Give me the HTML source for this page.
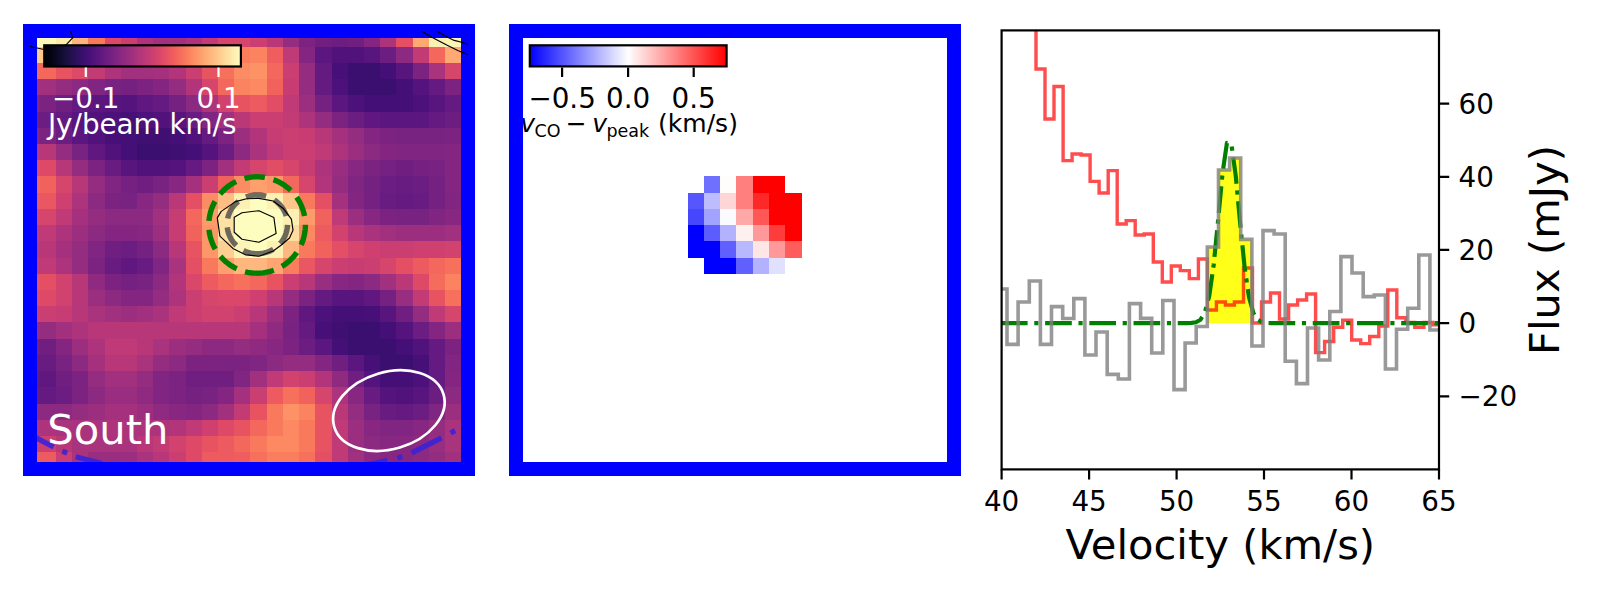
<!DOCTYPE html>
<html><head><meta charset="utf-8"><title>South spectrum</title>
<style>html,body{margin:0;padding:0;background:#fff;}svg{display:block;}text{font-family:'DejaVu Sans','Liberation Sans',sans-serif;}</style>
</head><body>
<svg width="1600" height="600" viewBox="0 0 1600 600">
<rect width="1600" height="600" fill="#fff"/>
<defs>
<clipPath id="c1"><rect x="30" y="31" width="438" height="438"/></clipPath>
<clipPath id="c1i"><rect x="37" y="38" width="424" height="424"/></clipPath>
<clipPath id="c3"><rect x="1001.6" y="30.4" width="437.4" height="439"/></clipPath>
<linearGradient id="gm" x1="0" x2="1" y1="0" y2="0"><stop offset="0.000" stop-color="#000004"/><stop offset="0.031" stop-color="#030312"/><stop offset="0.062" stop-color="#0a0822"/><stop offset="0.094" stop-color="#130d34"/><stop offset="0.125" stop-color="#1d1147"/><stop offset="0.156" stop-color="#29115a"/><stop offset="0.188" stop-color="#36106b"/><stop offset="0.219" stop-color="#440f76"/><stop offset="0.250" stop-color="#51127c"/><stop offset="0.281" stop-color="#5d177f"/><stop offset="0.312" stop-color="#6a1c81"/><stop offset="0.344" stop-color="#762181"/><stop offset="0.375" stop-color="#832681"/><stop offset="0.406" stop-color="#902a81"/><stop offset="0.438" stop-color="#9c2e7f"/><stop offset="0.469" stop-color="#aa337d"/><stop offset="0.500" stop-color="#b73779"/><stop offset="0.531" stop-color="#c43c75"/><stop offset="0.562" stop-color="#d0416f"/><stop offset="0.594" stop-color="#dc4869"/><stop offset="0.625" stop-color="#e75263"/><stop offset="0.656" stop-color="#ef5d5e"/><stop offset="0.688" stop-color="#f56b5c"/><stop offset="0.719" stop-color="#f9795d"/><stop offset="0.750" stop-color="#fc8961"/><stop offset="0.781" stop-color="#fd9869"/><stop offset="0.812" stop-color="#fea772"/><stop offset="0.844" stop-color="#feb67c"/><stop offset="0.875" stop-color="#fec488"/><stop offset="0.906" stop-color="#fed395"/><stop offset="0.938" stop-color="#fde2a3"/><stop offset="0.969" stop-color="#fcf0b2"/><stop offset="1.000" stop-color="#fcfdbf"/></linearGradient>
<linearGradient id="gb" x1="0" x2="1" y1="0" y2="0"><stop offset="0.000" stop-color="#0000ff"/><stop offset="0.062" stop-color="#2020ff"/><stop offset="0.125" stop-color="#4040ff"/><stop offset="0.188" stop-color="#6060ff"/><stop offset="0.250" stop-color="#8080ff"/><stop offset="0.312" stop-color="#a0a0ff"/><stop offset="0.375" stop-color="#c0c0ff"/><stop offset="0.438" stop-color="#e0e0ff"/><stop offset="0.500" stop-color="#fffefe"/><stop offset="0.562" stop-color="#ffdede"/><stop offset="0.625" stop-color="#ffbebe"/><stop offset="0.688" stop-color="#ff9e9e"/><stop offset="0.750" stop-color="#ff7e7e"/><stop offset="0.812" stop-color="#ff5e5e"/><stop offset="0.875" stop-color="#ff3e3e"/><stop offset="0.938" stop-color="#ff1e1e"/><stop offset="1.000" stop-color="#ff0000"/></linearGradient>
</defs>
<g clip-path="url(#c1)" shape-rendering="crispEdges">
<rect x="23.40" y="30.50" width="16.62" height="16.62" fill="#fcfdbf"/>
<rect x="39.62" y="30.50" width="16.62" height="16.62" fill="#fcf9bb"/>
<rect x="55.84" y="30.50" width="16.62" height="16.62" fill="#fdebac"/>
<rect x="72.06" y="30.50" width="16.62" height="16.62" fill="#feb47b"/>
<rect x="88.28" y="30.50" width="16.62" height="16.62" fill="#f9795d"/>
<rect x="104.50" y="30.50" width="16.62" height="16.62" fill="#de4968"/>
<rect x="120.72" y="30.50" width="16.62" height="16.62" fill="#ca3e72"/>
<rect x="136.94" y="30.50" width="16.62" height="16.62" fill="#ad347c"/>
<rect x="153.16" y="30.50" width="16.62" height="16.62" fill="#a1307e"/>
<rect x="169.38" y="30.50" width="16.62" height="16.62" fill="#a1307e"/>
<rect x="185.60" y="30.50" width="16.62" height="16.62" fill="#ad347c"/>
<rect x="201.82" y="30.50" width="16.62" height="16.62" fill="#c23b75"/>
<rect x="218.04" y="30.50" width="16.62" height="16.62" fill="#d6456c"/>
<rect x="234.26" y="30.50" width="16.62" height="16.62" fill="#d6456c"/>
<rect x="250.48" y="30.50" width="16.62" height="16.62" fill="#ca3e72"/>
<rect x="266.70" y="30.50" width="16.62" height="16.62" fill="#b73779"/>
<rect x="282.92" y="30.50" width="16.62" height="16.62" fill="#942c80"/>
<rect x="299.14" y="30.50" width="16.62" height="16.62" fill="#7c2382"/>
<rect x="315.36" y="30.50" width="16.62" height="16.62" fill="#701f81"/>
<rect x="331.58" y="30.50" width="16.62" height="16.62" fill="#6b1d81"/>
<rect x="347.80" y="30.50" width="16.62" height="16.62" fill="#701f81"/>
<rect x="364.02" y="30.50" width="16.62" height="16.62" fill="#842681"/>
<rect x="380.24" y="30.50" width="16.62" height="16.62" fill="#ad347c"/>
<rect x="396.46" y="30.50" width="16.62" height="16.62" fill="#e44f64"/>
<rect x="412.68" y="30.50" width="16.62" height="16.62" fill="#fea973"/>
<rect x="428.90" y="30.50" width="16.62" height="16.62" fill="#fcf0b2"/>
<rect x="445.12" y="30.50" width="16.62" height="16.62" fill="#fcf4b6"/>
<rect x="461.34" y="30.50" width="16.62" height="16.62" fill="#fcf4b6"/>
<rect x="23.40" y="46.72" width="16.62" height="16.62" fill="#fecd90"/>
<rect x="39.62" y="46.72" width="16.62" height="16.62" fill="#fec68a"/>
<rect x="55.84" y="46.72" width="16.62" height="16.62" fill="#fea973"/>
<rect x="72.06" y="46.72" width="16.62" height="16.62" fill="#f9795d"/>
<rect x="88.28" y="46.72" width="16.62" height="16.62" fill="#e44f64"/>
<rect x="104.50" y="46.72" width="16.62" height="16.62" fill="#c73d73"/>
<rect x="120.72" y="46.72" width="16.62" height="16.62" fill="#ad347c"/>
<rect x="136.94" y="46.72" width="16.62" height="16.62" fill="#a5317e"/>
<rect x="153.16" y="46.72" width="16.62" height="16.62" fill="#a5317e"/>
<rect x="169.38" y="46.72" width="16.62" height="16.62" fill="#ad347c"/>
<rect x="185.60" y="46.72" width="16.62" height="16.62" fill="#c23b75"/>
<rect x="201.82" y="46.72" width="16.62" height="16.62" fill="#de4968"/>
<rect x="218.04" y="46.72" width="16.62" height="16.62" fill="#f2625d"/>
<rect x="234.26" y="46.72" width="16.62" height="16.62" fill="#fa7d5e"/>
<rect x="250.48" y="46.72" width="16.62" height="16.62" fill="#fb835f"/>
<rect x="266.70" y="46.72" width="16.62" height="16.62" fill="#ef5d5e"/>
<rect x="282.92" y="46.72" width="16.62" height="16.62" fill="#bf3a77"/>
<rect x="299.14" y="46.72" width="16.62" height="16.62" fill="#842681"/>
<rect x="315.36" y="46.72" width="16.62" height="16.62" fill="#5c167f"/>
<rect x="331.58" y="46.72" width="16.62" height="16.62" fill="#51127c"/>
<rect x="347.80" y="46.72" width="16.62" height="16.62" fill="#51127c"/>
<rect x="364.02" y="46.72" width="16.62" height="16.62" fill="#59157e"/>
<rect x="380.24" y="46.72" width="16.62" height="16.62" fill="#6b1d81"/>
<rect x="396.46" y="46.72" width="16.62" height="16.62" fill="#8c2981"/>
<rect x="412.68" y="46.72" width="16.62" height="16.62" fill="#c23b75"/>
<rect x="428.90" y="46.72" width="16.62" height="16.62" fill="#f4675c"/>
<rect x="445.12" y="46.72" width="16.62" height="16.62" fill="#fea973"/>
<rect x="461.34" y="46.72" width="16.62" height="16.62" fill="#fea973"/>
<rect x="23.40" y="62.94" width="16.62" height="16.62" fill="#f66c5c"/>
<rect x="39.62" y="62.94" width="16.62" height="16.62" fill="#f4675c"/>
<rect x="55.84" y="62.94" width="16.62" height="16.62" fill="#e85362"/>
<rect x="72.06" y="62.94" width="16.62" height="16.62" fill="#de4968"/>
<rect x="88.28" y="62.94" width="16.62" height="16.62" fill="#c23b75"/>
<rect x="104.50" y="62.94" width="16.62" height="16.62" fill="#ad347c"/>
<rect x="120.72" y="62.94" width="16.62" height="16.62" fill="#a1307e"/>
<rect x="136.94" y="62.94" width="16.62" height="16.62" fill="#a1307e"/>
<rect x="153.16" y="62.94" width="16.62" height="16.62" fill="#a5317e"/>
<rect x="169.38" y="62.94" width="16.62" height="16.62" fill="#b2357b"/>
<rect x="185.60" y="62.94" width="16.62" height="16.62" fill="#ca3e72"/>
<rect x="201.82" y="62.94" width="16.62" height="16.62" fill="#e85362"/>
<rect x="218.04" y="62.94" width="16.62" height="16.62" fill="#f7705c"/>
<rect x="234.26" y="62.94" width="16.62" height="16.62" fill="#fc8c63"/>
<rect x="250.48" y="62.94" width="16.62" height="16.62" fill="#fd9266"/>
<rect x="266.70" y="62.94" width="16.62" height="16.62" fill="#f4675c"/>
<rect x="282.92" y="62.94" width="16.62" height="16.62" fill="#ca3e72"/>
<rect x="299.14" y="62.94" width="16.62" height="16.62" fill="#942c80"/>
<rect x="315.36" y="62.94" width="16.62" height="16.62" fill="#641a80"/>
<rect x="331.58" y="62.94" width="16.62" height="16.62" fill="#471078"/>
<rect x="347.80" y="62.94" width="16.62" height="16.62" fill="#3b0f70"/>
<rect x="364.02" y="62.94" width="16.62" height="16.62" fill="#3b0f70"/>
<rect x="380.24" y="62.94" width="16.62" height="16.62" fill="#440f76"/>
<rect x="396.46" y="62.94" width="16.62" height="16.62" fill="#59157e"/>
<rect x="412.68" y="62.94" width="16.62" height="16.62" fill="#7c2382"/>
<rect x="428.90" y="62.94" width="16.62" height="16.62" fill="#aa337d"/>
<rect x="445.12" y="62.94" width="16.62" height="16.62" fill="#d6456c"/>
<rect x="461.34" y="62.94" width="16.62" height="16.62" fill="#d6456c"/>
<rect x="23.40" y="79.16" width="16.62" height="16.62" fill="#a5317e"/>
<rect x="39.62" y="79.16" width="16.62" height="16.62" fill="#a1307e"/>
<rect x="55.84" y="79.16" width="16.62" height="16.62" fill="#942c80"/>
<rect x="72.06" y="79.16" width="16.62" height="16.62" fill="#8c2981"/>
<rect x="88.28" y="79.16" width="16.62" height="16.62" fill="#802582"/>
<rect x="104.50" y="79.16" width="16.62" height="16.62" fill="#782281"/>
<rect x="120.72" y="79.16" width="16.62" height="16.62" fill="#752181"/>
<rect x="136.94" y="79.16" width="16.62" height="16.62" fill="#7c2382"/>
<rect x="153.16" y="79.16" width="16.62" height="16.62" fill="#842681"/>
<rect x="169.38" y="79.16" width="16.62" height="16.62" fill="#942c80"/>
<rect x="185.60" y="79.16" width="16.62" height="16.62" fill="#b2357b"/>
<rect x="201.82" y="79.16" width="16.62" height="16.62" fill="#d6456c"/>
<rect x="218.04" y="79.16" width="16.62" height="16.62" fill="#f4675c"/>
<rect x="234.26" y="79.16" width="16.62" height="16.62" fill="#fb835f"/>
<rect x="250.48" y="79.16" width="16.62" height="16.62" fill="#fc8961"/>
<rect x="266.70" y="79.16" width="16.62" height="16.62" fill="#f2625d"/>
<rect x="282.92" y="79.16" width="16.62" height="16.62" fill="#c73d73"/>
<rect x="299.14" y="79.16" width="16.62" height="16.62" fill="#942c80"/>
<rect x="315.36" y="79.16" width="16.62" height="16.62" fill="#641a80"/>
<rect x="331.58" y="79.16" width="16.62" height="16.62" fill="#4c117a"/>
<rect x="347.80" y="79.16" width="16.62" height="16.62" fill="#3b0f70"/>
<rect x="364.02" y="79.16" width="16.62" height="16.62" fill="#3b0f70"/>
<rect x="380.24" y="79.16" width="16.62" height="16.62" fill="#3b0f70"/>
<rect x="396.46" y="79.16" width="16.62" height="16.62" fill="#440f76"/>
<rect x="412.68" y="79.16" width="16.62" height="16.62" fill="#54137d"/>
<rect x="428.90" y="79.16" width="16.62" height="16.62" fill="#641a80"/>
<rect x="445.12" y="79.16" width="16.62" height="16.62" fill="#7c2382"/>
<rect x="461.34" y="79.16" width="16.62" height="16.62" fill="#7c2382"/>
<rect x="23.40" y="95.38" width="16.62" height="16.62" fill="#802582"/>
<rect x="39.62" y="95.38" width="16.62" height="16.62" fill="#7c2382"/>
<rect x="55.84" y="95.38" width="16.62" height="16.62" fill="#701f81"/>
<rect x="72.06" y="95.38" width="16.62" height="16.62" fill="#641a80"/>
<rect x="88.28" y="95.38" width="16.62" height="16.62" fill="#5c167f"/>
<rect x="104.50" y="95.38" width="16.62" height="16.62" fill="#59157e"/>
<rect x="120.72" y="95.38" width="16.62" height="16.62" fill="#54137d"/>
<rect x="136.94" y="95.38" width="16.62" height="16.62" fill="#601880"/>
<rect x="153.16" y="95.38" width="16.62" height="16.62" fill="#641a80"/>
<rect x="169.38" y="95.38" width="16.62" height="16.62" fill="#752181"/>
<rect x="185.60" y="95.38" width="16.62" height="16.62" fill="#8c2981"/>
<rect x="201.82" y="95.38" width="16.62" height="16.62" fill="#ad347c"/>
<rect x="218.04" y="95.38" width="16.62" height="16.62" fill="#d2426f"/>
<rect x="234.26" y="95.38" width="16.62" height="16.62" fill="#e85362"/>
<rect x="250.48" y="95.38" width="16.62" height="16.62" fill="#ed5a5f"/>
<rect x="266.70" y="95.38" width="16.62" height="16.62" fill="#e24d66"/>
<rect x="282.92" y="95.38" width="16.62" height="16.62" fill="#bf3a77"/>
<rect x="299.14" y="95.38" width="16.62" height="16.62" fill="#9c2e7f"/>
<rect x="315.36" y="95.38" width="16.62" height="16.62" fill="#752181"/>
<rect x="331.58" y="95.38" width="16.62" height="16.62" fill="#5c167f"/>
<rect x="347.80" y="95.38" width="16.62" height="16.62" fill="#4c117a"/>
<rect x="364.02" y="95.38" width="16.62" height="16.62" fill="#440f76"/>
<rect x="380.24" y="95.38" width="16.62" height="16.62" fill="#440f76"/>
<rect x="396.46" y="95.38" width="16.62" height="16.62" fill="#440f76"/>
<rect x="412.68" y="95.38" width="16.62" height="16.62" fill="#4c117a"/>
<rect x="428.90" y="95.38" width="16.62" height="16.62" fill="#59157e"/>
<rect x="445.12" y="95.38" width="16.62" height="16.62" fill="#641a80"/>
<rect x="461.34" y="95.38" width="16.62" height="16.62" fill="#641a80"/>
<rect x="23.40" y="111.60" width="16.62" height="16.62" fill="#6e1e81"/>
<rect x="39.62" y="111.60" width="16.62" height="16.62" fill="#6b1d81"/>
<rect x="55.84" y="111.60" width="16.62" height="16.62" fill="#641a80"/>
<rect x="72.06" y="111.60" width="16.62" height="16.62" fill="#59157e"/>
<rect x="88.28" y="111.60" width="16.62" height="16.62" fill="#51127c"/>
<rect x="104.50" y="111.60" width="16.62" height="16.62" fill="#4c117a"/>
<rect x="120.72" y="111.60" width="16.62" height="16.62" fill="#471078"/>
<rect x="136.94" y="111.60" width="16.62" height="16.62" fill="#4c117a"/>
<rect x="153.16" y="111.60" width="16.62" height="16.62" fill="#51127c"/>
<rect x="169.38" y="111.60" width="16.62" height="16.62" fill="#59157e"/>
<rect x="185.60" y="111.60" width="16.62" height="16.62" fill="#681c81"/>
<rect x="201.82" y="111.60" width="16.62" height="16.62" fill="#802582"/>
<rect x="218.04" y="111.60" width="16.62" height="16.62" fill="#a1307e"/>
<rect x="234.26" y="111.60" width="16.62" height="16.62" fill="#ba3878"/>
<rect x="250.48" y="111.60" width="16.62" height="16.62" fill="#ca3e72"/>
<rect x="266.70" y="111.60" width="16.62" height="16.62" fill="#ca3e72"/>
<rect x="282.92" y="111.60" width="16.62" height="16.62" fill="#c23b75"/>
<rect x="299.14" y="111.60" width="16.62" height="16.62" fill="#ad347c"/>
<rect x="315.36" y="111.60" width="16.62" height="16.62" fill="#942c80"/>
<rect x="331.58" y="111.60" width="16.62" height="16.62" fill="#7c2382"/>
<rect x="347.80" y="111.60" width="16.62" height="16.62" fill="#6b1d81"/>
<rect x="364.02" y="111.60" width="16.62" height="16.62" fill="#601880"/>
<rect x="380.24" y="111.60" width="16.62" height="16.62" fill="#5c167f"/>
<rect x="396.46" y="111.60" width="16.62" height="16.62" fill="#5c167f"/>
<rect x="412.68" y="111.60" width="16.62" height="16.62" fill="#5c167f"/>
<rect x="428.90" y="111.60" width="16.62" height="16.62" fill="#641a80"/>
<rect x="445.12" y="111.60" width="16.62" height="16.62" fill="#6b1d81"/>
<rect x="461.34" y="111.60" width="16.62" height="16.62" fill="#6b1d81"/>
<rect x="23.40" y="127.82" width="16.62" height="16.62" fill="#802582"/>
<rect x="39.62" y="127.82" width="16.62" height="16.62" fill="#7c2382"/>
<rect x="55.84" y="127.82" width="16.62" height="16.62" fill="#6b1d81"/>
<rect x="72.06" y="127.82" width="16.62" height="16.62" fill="#5c167f"/>
<rect x="88.28" y="127.82" width="16.62" height="16.62" fill="#51127c"/>
<rect x="104.50" y="127.82" width="16.62" height="16.62" fill="#471078"/>
<rect x="120.72" y="127.82" width="16.62" height="16.62" fill="#440f76"/>
<rect x="136.94" y="127.82" width="16.62" height="16.62" fill="#3f0f72"/>
<rect x="153.16" y="127.82" width="16.62" height="16.62" fill="#3f0f72"/>
<rect x="169.38" y="127.82" width="16.62" height="16.62" fill="#440f76"/>
<rect x="185.60" y="127.82" width="16.62" height="16.62" fill="#51127c"/>
<rect x="201.82" y="127.82" width="16.62" height="16.62" fill="#641a80"/>
<rect x="218.04" y="127.82" width="16.62" height="16.62" fill="#7c2382"/>
<rect x="234.26" y="127.82" width="16.62" height="16.62" fill="#9c2e7f"/>
<rect x="250.48" y="127.82" width="16.62" height="16.62" fill="#b2357b"/>
<rect x="266.70" y="127.82" width="16.62" height="16.62" fill="#c73d73"/>
<rect x="282.92" y="127.82" width="16.62" height="16.62" fill="#ca3e72"/>
<rect x="299.14" y="127.82" width="16.62" height="16.62" fill="#c73d73"/>
<rect x="315.36" y="127.82" width="16.62" height="16.62" fill="#b73779"/>
<rect x="331.58" y="127.82" width="16.62" height="16.62" fill="#a5317e"/>
<rect x="347.80" y="127.82" width="16.62" height="16.62" fill="#942c80"/>
<rect x="364.02" y="127.82" width="16.62" height="16.62" fill="#842681"/>
<rect x="380.24" y="127.82" width="16.62" height="16.62" fill="#7c2382"/>
<rect x="396.46" y="127.82" width="16.62" height="16.62" fill="#782281"/>
<rect x="412.68" y="127.82" width="16.62" height="16.62" fill="#782281"/>
<rect x="428.90" y="127.82" width="16.62" height="16.62" fill="#782281"/>
<rect x="445.12" y="127.82" width="16.62" height="16.62" fill="#7c2382"/>
<rect x="461.34" y="127.82" width="16.62" height="16.62" fill="#7c2382"/>
<rect x="23.40" y="144.04" width="16.62" height="16.62" fill="#ba3878"/>
<rect x="39.62" y="144.04" width="16.62" height="16.62" fill="#b73779"/>
<rect x="55.84" y="144.04" width="16.62" height="16.62" fill="#942c80"/>
<rect x="72.06" y="144.04" width="16.62" height="16.62" fill="#782281"/>
<rect x="88.28" y="144.04" width="16.62" height="16.62" fill="#601880"/>
<rect x="104.50" y="144.04" width="16.62" height="16.62" fill="#51127c"/>
<rect x="120.72" y="144.04" width="16.62" height="16.62" fill="#440f76"/>
<rect x="136.94" y="144.04" width="16.62" height="16.62" fill="#3b0f70"/>
<rect x="153.16" y="144.04" width="16.62" height="16.62" fill="#3b0f70"/>
<rect x="169.38" y="144.04" width="16.62" height="16.62" fill="#3f0f72"/>
<rect x="185.60" y="144.04" width="16.62" height="16.62" fill="#440f76"/>
<rect x="201.82" y="144.04" width="16.62" height="16.62" fill="#54137d"/>
<rect x="218.04" y="144.04" width="16.62" height="16.62" fill="#6b1d81"/>
<rect x="234.26" y="144.04" width="16.62" height="16.62" fill="#8c2981"/>
<rect x="250.48" y="144.04" width="16.62" height="16.62" fill="#aa337d"/>
<rect x="266.70" y="144.04" width="16.62" height="16.62" fill="#bf3a77"/>
<rect x="282.92" y="144.04" width="16.62" height="16.62" fill="#ca3e72"/>
<rect x="299.14" y="144.04" width="16.62" height="16.62" fill="#ca3e72"/>
<rect x="315.36" y="144.04" width="16.62" height="16.62" fill="#bf3a77"/>
<rect x="331.58" y="144.04" width="16.62" height="16.62" fill="#ad347c"/>
<rect x="347.80" y="144.04" width="16.62" height="16.62" fill="#9c2e7f"/>
<rect x="364.02" y="144.04" width="16.62" height="16.62" fill="#8c2981"/>
<rect x="380.24" y="144.04" width="16.62" height="16.62" fill="#842681"/>
<rect x="396.46" y="144.04" width="16.62" height="16.62" fill="#802582"/>
<rect x="412.68" y="144.04" width="16.62" height="16.62" fill="#802582"/>
<rect x="428.90" y="144.04" width="16.62" height="16.62" fill="#802582"/>
<rect x="445.12" y="144.04" width="16.62" height="16.62" fill="#842681"/>
<rect x="461.34" y="144.04" width="16.62" height="16.62" fill="#842681"/>
<rect x="23.40" y="160.26" width="16.62" height="16.62" fill="#e24d66"/>
<rect x="39.62" y="160.26" width="16.62" height="16.62" fill="#de4968"/>
<rect x="55.84" y="160.26" width="16.62" height="16.62" fill="#b73779"/>
<rect x="72.06" y="160.26" width="16.62" height="16.62" fill="#942c80"/>
<rect x="88.28" y="160.26" width="16.62" height="16.62" fill="#7c2382"/>
<rect x="104.50" y="160.26" width="16.62" height="16.62" fill="#681c81"/>
<rect x="120.72" y="160.26" width="16.62" height="16.62" fill="#59157e"/>
<rect x="136.94" y="160.26" width="16.62" height="16.62" fill="#51127c"/>
<rect x="153.16" y="160.26" width="16.62" height="16.62" fill="#51127c"/>
<rect x="169.38" y="160.26" width="16.62" height="16.62" fill="#54137d"/>
<rect x="185.60" y="160.26" width="16.62" height="16.62" fill="#641a80"/>
<rect x="201.82" y="160.26" width="16.62" height="16.62" fill="#7c2382"/>
<rect x="218.04" y="160.26" width="16.62" height="16.62" fill="#a1307e"/>
<rect x="234.26" y="160.26" width="16.62" height="16.62" fill="#c23b75"/>
<rect x="250.48" y="160.26" width="16.62" height="16.62" fill="#d6456c"/>
<rect x="266.70" y="160.26" width="16.62" height="16.62" fill="#e24d66"/>
<rect x="282.92" y="160.26" width="16.62" height="16.62" fill="#d6456c"/>
<rect x="299.14" y="160.26" width="16.62" height="16.62" fill="#c73d73"/>
<rect x="315.36" y="160.26" width="16.62" height="16.62" fill="#ad347c"/>
<rect x="331.58" y="160.26" width="16.62" height="16.62" fill="#992d80"/>
<rect x="347.80" y="160.26" width="16.62" height="16.62" fill="#882781"/>
<rect x="364.02" y="160.26" width="16.62" height="16.62" fill="#7c2382"/>
<rect x="380.24" y="160.26" width="16.62" height="16.62" fill="#752181"/>
<rect x="396.46" y="160.26" width="16.62" height="16.62" fill="#701f81"/>
<rect x="412.68" y="160.26" width="16.62" height="16.62" fill="#752181"/>
<rect x="428.90" y="160.26" width="16.62" height="16.62" fill="#782281"/>
<rect x="445.12" y="160.26" width="16.62" height="16.62" fill="#842681"/>
<rect x="461.34" y="160.26" width="16.62" height="16.62" fill="#842681"/>
<rect x="23.40" y="176.48" width="16.62" height="16.62" fill="#f4675c"/>
<rect x="39.62" y="176.48" width="16.62" height="16.62" fill="#f2625d"/>
<rect x="55.84" y="176.48" width="16.62" height="16.62" fill="#d6456c"/>
<rect x="72.06" y="176.48" width="16.62" height="16.62" fill="#b73779"/>
<rect x="88.28" y="176.48" width="16.62" height="16.62" fill="#942c80"/>
<rect x="104.50" y="176.48" width="16.62" height="16.62" fill="#802582"/>
<rect x="120.72" y="176.48" width="16.62" height="16.62" fill="#752181"/>
<rect x="136.94" y="176.48" width="16.62" height="16.62" fill="#701f81"/>
<rect x="153.16" y="176.48" width="16.62" height="16.62" fill="#782281"/>
<rect x="169.38" y="176.48" width="16.62" height="16.62" fill="#882781"/>
<rect x="185.60" y="176.48" width="16.62" height="16.62" fill="#a5317e"/>
<rect x="201.82" y="176.48" width="16.62" height="16.62" fill="#ca3e72"/>
<rect x="218.04" y="176.48" width="16.62" height="16.62" fill="#f2625d"/>
<rect x="234.26" y="176.48" width="16.62" height="16.62" fill="#fc8c63"/>
<rect x="250.48" y="176.48" width="16.62" height="16.62" fill="#fe9f6d"/>
<rect x="266.70" y="176.48" width="16.62" height="16.62" fill="#fd9668"/>
<rect x="282.92" y="176.48" width="16.62" height="16.62" fill="#f4675c"/>
<rect x="299.14" y="176.48" width="16.62" height="16.62" fill="#d6456c"/>
<rect x="315.36" y="176.48" width="16.62" height="16.62" fill="#b2357b"/>
<rect x="331.58" y="176.48" width="16.62" height="16.62" fill="#942c80"/>
<rect x="347.80" y="176.48" width="16.62" height="16.62" fill="#802582"/>
<rect x="364.02" y="176.48" width="16.62" height="16.62" fill="#752181"/>
<rect x="380.24" y="176.48" width="16.62" height="16.62" fill="#6b1d81"/>
<rect x="396.46" y="176.48" width="16.62" height="16.62" fill="#681c81"/>
<rect x="412.68" y="176.48" width="16.62" height="16.62" fill="#6b1d81"/>
<rect x="428.90" y="176.48" width="16.62" height="16.62" fill="#752181"/>
<rect x="445.12" y="176.48" width="16.62" height="16.62" fill="#842681"/>
<rect x="461.34" y="176.48" width="16.62" height="16.62" fill="#842681"/>
<rect x="23.40" y="192.70" width="16.62" height="16.62" fill="#ee5b5e"/>
<rect x="39.62" y="192.70" width="16.62" height="16.62" fill="#ea5661"/>
<rect x="55.84" y="192.70" width="16.62" height="16.62" fill="#cf4070"/>
<rect x="72.06" y="192.70" width="16.62" height="16.62" fill="#ad347c"/>
<rect x="88.28" y="192.70" width="16.62" height="16.62" fill="#8c2981"/>
<rect x="104.50" y="192.70" width="16.62" height="16.62" fill="#7c2382"/>
<rect x="120.72" y="192.70" width="16.62" height="16.62" fill="#782281"/>
<rect x="136.94" y="192.70" width="16.62" height="16.62" fill="#882781"/>
<rect x="153.16" y="192.70" width="16.62" height="16.62" fill="#942c80"/>
<rect x="169.38" y="192.70" width="16.62" height="16.62" fill="#ba3878"/>
<rect x="185.60" y="192.70" width="16.62" height="16.62" fill="#e44f64"/>
<rect x="201.82" y="192.70" width="16.62" height="16.62" fill="#fc8c63"/>
<rect x="218.04" y="192.70" width="16.62" height="16.62" fill="#febd82"/>
<rect x="234.26" y="192.70" width="16.62" height="16.62" fill="#fcf0b2"/>
<rect x="250.48" y="192.70" width="16.62" height="16.62" fill="#fcfdbf"/>
<rect x="266.70" y="192.70" width="16.62" height="16.62" fill="#fcf0b2"/>
<rect x="282.92" y="192.70" width="16.62" height="16.62" fill="#fec68a"/>
<rect x="299.14" y="192.70" width="16.62" height="16.62" fill="#f9795d"/>
<rect x="315.36" y="192.70" width="16.62" height="16.62" fill="#e44f64"/>
<rect x="331.58" y="192.70" width="16.62" height="16.62" fill="#a5317e"/>
<rect x="347.80" y="192.70" width="16.62" height="16.62" fill="#842681"/>
<rect x="364.02" y="192.70" width="16.62" height="16.62" fill="#752181"/>
<rect x="380.24" y="192.70" width="16.62" height="16.62" fill="#681c81"/>
<rect x="396.46" y="192.70" width="16.62" height="16.62" fill="#641a80"/>
<rect x="412.68" y="192.70" width="16.62" height="16.62" fill="#681c81"/>
<rect x="428.90" y="192.70" width="16.62" height="16.62" fill="#752181"/>
<rect x="445.12" y="192.70" width="16.62" height="16.62" fill="#802582"/>
<rect x="461.34" y="192.70" width="16.62" height="16.62" fill="#802582"/>
<rect x="23.40" y="208.92" width="16.62" height="16.62" fill="#db476a"/>
<rect x="39.62" y="208.92" width="16.62" height="16.62" fill="#d6456c"/>
<rect x="55.84" y="208.92" width="16.62" height="16.62" fill="#bf3a77"/>
<rect x="72.06" y="208.92" width="16.62" height="16.62" fill="#a5317e"/>
<rect x="88.28" y="208.92" width="16.62" height="16.62" fill="#942c80"/>
<rect x="104.50" y="208.92" width="16.62" height="16.62" fill="#8c2981"/>
<rect x="120.72" y="208.92" width="16.62" height="16.62" fill="#8c2981"/>
<rect x="136.94" y="208.92" width="16.62" height="16.62" fill="#8c2981"/>
<rect x="153.16" y="208.92" width="16.62" height="16.62" fill="#a1307e"/>
<rect x="169.38" y="208.92" width="16.62" height="16.62" fill="#c73d73"/>
<rect x="185.60" y="208.92" width="16.62" height="16.62" fill="#f4675c"/>
<rect x="201.82" y="208.92" width="16.62" height="16.62" fill="#fd9b6b"/>
<rect x="218.04" y="208.92" width="16.62" height="16.62" fill="#fde2a3"/>
<rect x="234.26" y="208.92" width="16.62" height="16.62" fill="#fcfdbf"/>
<rect x="250.48" y="208.92" width="16.62" height="16.62" fill="#fcfdbf"/>
<rect x="266.70" y="208.92" width="16.62" height="16.62" fill="#fcfdbf"/>
<rect x="282.92" y="208.92" width="16.62" height="16.62" fill="#fcf0b2"/>
<rect x="299.14" y="208.92" width="16.62" height="16.62" fill="#fd9b6b"/>
<rect x="315.36" y="208.92" width="16.62" height="16.62" fill="#f2625d"/>
<rect x="331.58" y="208.92" width="16.62" height="16.62" fill="#bf3a77"/>
<rect x="347.80" y="208.92" width="16.62" height="16.62" fill="#9c2e7f"/>
<rect x="364.02" y="208.92" width="16.62" height="16.62" fill="#882781"/>
<rect x="380.24" y="208.92" width="16.62" height="16.62" fill="#7c2382"/>
<rect x="396.46" y="208.92" width="16.62" height="16.62" fill="#782281"/>
<rect x="412.68" y="208.92" width="16.62" height="16.62" fill="#782281"/>
<rect x="428.90" y="208.92" width="16.62" height="16.62" fill="#802582"/>
<rect x="445.12" y="208.92" width="16.62" height="16.62" fill="#882781"/>
<rect x="461.34" y="208.92" width="16.62" height="16.62" fill="#882781"/>
<rect x="23.40" y="225.14" width="16.62" height="16.62" fill="#c23b75"/>
<rect x="39.62" y="225.14" width="16.62" height="16.62" fill="#bf3a77"/>
<rect x="55.84" y="225.14" width="16.62" height="16.62" fill="#ad347c"/>
<rect x="72.06" y="225.14" width="16.62" height="16.62" fill="#9c2e7f"/>
<rect x="88.28" y="225.14" width="16.62" height="16.62" fill="#8c2981"/>
<rect x="104.50" y="225.14" width="16.62" height="16.62" fill="#842681"/>
<rect x="120.72" y="225.14" width="16.62" height="16.62" fill="#842681"/>
<rect x="136.94" y="225.14" width="16.62" height="16.62" fill="#882781"/>
<rect x="153.16" y="225.14" width="16.62" height="16.62" fill="#9c2e7f"/>
<rect x="169.38" y="225.14" width="16.62" height="16.62" fill="#c73d73"/>
<rect x="185.60" y="225.14" width="16.62" height="16.62" fill="#f2625d"/>
<rect x="201.82" y="225.14" width="16.62" height="16.62" fill="#fd9668"/>
<rect x="218.04" y="225.14" width="16.62" height="16.62" fill="#fde2a3"/>
<rect x="234.26" y="225.14" width="16.62" height="16.62" fill="#fcfdbf"/>
<rect x="250.48" y="225.14" width="16.62" height="16.62" fill="#fcfdbf"/>
<rect x="266.70" y="225.14" width="16.62" height="16.62" fill="#fcfdbf"/>
<rect x="282.92" y="225.14" width="16.62" height="16.62" fill="#fddea0"/>
<rect x="299.14" y="225.14" width="16.62" height="16.62" fill="#fc8961"/>
<rect x="315.36" y="225.14" width="16.62" height="16.62" fill="#ed5a5f"/>
<rect x="331.58" y="225.14" width="16.62" height="16.62" fill="#d2426f"/>
<rect x="347.80" y="225.14" width="16.62" height="16.62" fill="#b73779"/>
<rect x="364.02" y="225.14" width="16.62" height="16.62" fill="#aa337d"/>
<rect x="380.24" y="225.14" width="16.62" height="16.62" fill="#a1307e"/>
<rect x="396.46" y="225.14" width="16.62" height="16.62" fill="#9c2e7f"/>
<rect x="412.68" y="225.14" width="16.62" height="16.62" fill="#9c2e7f"/>
<rect x="428.90" y="225.14" width="16.62" height="16.62" fill="#9c2e7f"/>
<rect x="445.12" y="225.14" width="16.62" height="16.62" fill="#a1307e"/>
<rect x="461.34" y="225.14" width="16.62" height="16.62" fill="#a1307e"/>
<rect x="23.40" y="241.36" width="16.62" height="16.62" fill="#ba3878"/>
<rect x="39.62" y="241.36" width="16.62" height="16.62" fill="#b73779"/>
<rect x="55.84" y="241.36" width="16.62" height="16.62" fill="#a5317e"/>
<rect x="72.06" y="241.36" width="16.62" height="16.62" fill="#942c80"/>
<rect x="88.28" y="241.36" width="16.62" height="16.62" fill="#802582"/>
<rect x="104.50" y="241.36" width="16.62" height="16.62" fill="#701f81"/>
<rect x="120.72" y="241.36" width="16.62" height="16.62" fill="#6b1d81"/>
<rect x="136.94" y="241.36" width="16.62" height="16.62" fill="#752181"/>
<rect x="153.16" y="241.36" width="16.62" height="16.62" fill="#8c2981"/>
<rect x="169.38" y="241.36" width="16.62" height="16.62" fill="#b73779"/>
<rect x="185.60" y="241.36" width="16.62" height="16.62" fill="#e85362"/>
<rect x="201.82" y="241.36" width="16.62" height="16.62" fill="#fd9668"/>
<rect x="218.04" y="241.36" width="16.62" height="16.62" fill="#fecf92"/>
<rect x="234.26" y="241.36" width="16.62" height="16.62" fill="#fcf4b6"/>
<rect x="250.48" y="241.36" width="16.62" height="16.62" fill="#fcfdbf"/>
<rect x="266.70" y="241.36" width="16.62" height="16.62" fill="#fcf0b2"/>
<rect x="282.92" y="241.36" width="16.62" height="16.62" fill="#feb77e"/>
<rect x="299.14" y="241.36" width="16.62" height="16.62" fill="#f9795d"/>
<rect x="315.36" y="241.36" width="16.62" height="16.62" fill="#f2625d"/>
<rect x="331.58" y="241.36" width="16.62" height="16.62" fill="#e44f64"/>
<rect x="347.80" y="241.36" width="16.62" height="16.62" fill="#d6456c"/>
<rect x="364.02" y="241.36" width="16.62" height="16.62" fill="#cf4070"/>
<rect x="380.24" y="241.36" width="16.62" height="16.62" fill="#ca3e72"/>
<rect x="396.46" y="241.36" width="16.62" height="16.62" fill="#ca3e72"/>
<rect x="412.68" y="241.36" width="16.62" height="16.62" fill="#cf4070"/>
<rect x="428.90" y="241.36" width="16.62" height="16.62" fill="#cf4070"/>
<rect x="445.12" y="241.36" width="16.62" height="16.62" fill="#d2426f"/>
<rect x="461.34" y="241.36" width="16.62" height="16.62" fill="#d2426f"/>
<rect x="23.40" y="257.58" width="16.62" height="16.62" fill="#c23b75"/>
<rect x="39.62" y="257.58" width="16.62" height="16.62" fill="#bf3a77"/>
<rect x="55.84" y="257.58" width="16.62" height="16.62" fill="#ad347c"/>
<rect x="72.06" y="257.58" width="16.62" height="16.62" fill="#942c80"/>
<rect x="88.28" y="257.58" width="16.62" height="16.62" fill="#7c2382"/>
<rect x="104.50" y="257.58" width="16.62" height="16.62" fill="#681c81"/>
<rect x="120.72" y="257.58" width="16.62" height="16.62" fill="#601880"/>
<rect x="136.94" y="257.58" width="16.62" height="16.62" fill="#681c81"/>
<rect x="153.16" y="257.58" width="16.62" height="16.62" fill="#802582"/>
<rect x="169.38" y="257.58" width="16.62" height="16.62" fill="#aa337d"/>
<rect x="185.60" y="257.58" width="16.62" height="16.62" fill="#e44f64"/>
<rect x="201.82" y="257.58" width="16.62" height="16.62" fill="#f9795d"/>
<rect x="218.04" y="257.58" width="16.62" height="16.62" fill="#fe9f6d"/>
<rect x="234.26" y="257.58" width="16.62" height="16.62" fill="#feb77e"/>
<rect x="250.48" y="257.58" width="16.62" height="16.62" fill="#feb77e"/>
<rect x="266.70" y="257.58" width="16.62" height="16.62" fill="#fea571"/>
<rect x="282.92" y="257.58" width="16.62" height="16.62" fill="#fa7d5e"/>
<rect x="299.14" y="257.58" width="16.62" height="16.62" fill="#ea5661"/>
<rect x="315.36" y="257.58" width="16.62" height="16.62" fill="#d6456c"/>
<rect x="331.58" y="257.58" width="16.62" height="16.62" fill="#ca3e72"/>
<rect x="347.80" y="257.58" width="16.62" height="16.62" fill="#c73d73"/>
<rect x="364.02" y="257.58" width="16.62" height="16.62" fill="#ca3e72"/>
<rect x="380.24" y="257.58" width="16.62" height="16.62" fill="#d6456c"/>
<rect x="396.46" y="257.58" width="16.62" height="16.62" fill="#e44f64"/>
<rect x="412.68" y="257.58" width="16.62" height="16.62" fill="#ed5a5f"/>
<rect x="428.90" y="257.58" width="16.62" height="16.62" fill="#f4675c"/>
<rect x="445.12" y="257.58" width="16.62" height="16.62" fill="#f7705c"/>
<rect x="461.34" y="257.58" width="16.62" height="16.62" fill="#f7705c"/>
<rect x="23.40" y="273.80" width="16.62" height="16.62" fill="#e85362"/>
<rect x="39.62" y="273.80" width="16.62" height="16.62" fill="#e44f64"/>
<rect x="55.84" y="273.80" width="16.62" height="16.62" fill="#d2426f"/>
<rect x="72.06" y="273.80" width="16.62" height="16.62" fill="#b73779"/>
<rect x="88.28" y="273.80" width="16.62" height="16.62" fill="#902a81"/>
<rect x="104.50" y="273.80" width="16.62" height="16.62" fill="#7c2382"/>
<rect x="120.72" y="273.80" width="16.62" height="16.62" fill="#752181"/>
<rect x="136.94" y="273.80" width="16.62" height="16.62" fill="#782281"/>
<rect x="153.16" y="273.80" width="16.62" height="16.62" fill="#8c2981"/>
<rect x="169.38" y="273.80" width="16.62" height="16.62" fill="#b2357b"/>
<rect x="185.60" y="273.80" width="16.62" height="16.62" fill="#db476a"/>
<rect x="201.82" y="273.80" width="16.62" height="16.62" fill="#ed5a5f"/>
<rect x="218.04" y="273.80" width="16.62" height="16.62" fill="#f4675c"/>
<rect x="234.26" y="273.80" width="16.62" height="16.62" fill="#f7705c"/>
<rect x="250.48" y="273.80" width="16.62" height="16.62" fill="#f4675c"/>
<rect x="266.70" y="273.80" width="16.62" height="16.62" fill="#e85362"/>
<rect x="282.92" y="273.80" width="16.62" height="16.62" fill="#ca3e72"/>
<rect x="299.14" y="273.80" width="16.62" height="16.62" fill="#b73779"/>
<rect x="315.36" y="273.80" width="16.62" height="16.62" fill="#992d80"/>
<rect x="331.58" y="273.80" width="16.62" height="16.62" fill="#882781"/>
<rect x="347.80" y="273.80" width="16.62" height="16.62" fill="#842681"/>
<rect x="364.02" y="273.80" width="16.62" height="16.62" fill="#8c2981"/>
<rect x="380.24" y="273.80" width="16.62" height="16.62" fill="#a1307e"/>
<rect x="396.46" y="273.80" width="16.62" height="16.62" fill="#ba3878"/>
<rect x="412.68" y="273.80" width="16.62" height="16.62" fill="#de4968"/>
<rect x="428.90" y="273.80" width="16.62" height="16.62" fill="#f56b5c"/>
<rect x="445.12" y="273.80" width="16.62" height="16.62" fill="#fb835f"/>
<rect x="461.34" y="273.80" width="16.62" height="16.62" fill="#fb835f"/>
<rect x="23.40" y="290.02" width="16.62" height="16.62" fill="#e24d66"/>
<rect x="39.62" y="290.02" width="16.62" height="16.62" fill="#de4968"/>
<rect x="55.84" y="290.02" width="16.62" height="16.62" fill="#d2426f"/>
<rect x="72.06" y="290.02" width="16.62" height="16.62" fill="#b73779"/>
<rect x="88.28" y="290.02" width="16.62" height="16.62" fill="#9c2e7f"/>
<rect x="104.50" y="290.02" width="16.62" height="16.62" fill="#8c2981"/>
<rect x="120.72" y="290.02" width="16.62" height="16.62" fill="#842681"/>
<rect x="136.94" y="290.02" width="16.62" height="16.62" fill="#842681"/>
<rect x="153.16" y="290.02" width="16.62" height="16.62" fill="#942c80"/>
<rect x="169.38" y="290.02" width="16.62" height="16.62" fill="#ad347c"/>
<rect x="185.60" y="290.02" width="16.62" height="16.62" fill="#ca3e72"/>
<rect x="201.82" y="290.02" width="16.62" height="16.62" fill="#d6456c"/>
<rect x="218.04" y="290.02" width="16.62" height="16.62" fill="#db476a"/>
<rect x="234.26" y="290.02" width="16.62" height="16.62" fill="#db476a"/>
<rect x="250.48" y="290.02" width="16.62" height="16.62" fill="#cf4070"/>
<rect x="266.70" y="290.02" width="16.62" height="16.62" fill="#b73779"/>
<rect x="282.92" y="290.02" width="16.62" height="16.62" fill="#942c80"/>
<rect x="299.14" y="290.02" width="16.62" height="16.62" fill="#7c2382"/>
<rect x="315.36" y="290.02" width="16.62" height="16.62" fill="#641a80"/>
<rect x="331.58" y="290.02" width="16.62" height="16.62" fill="#59157e"/>
<rect x="347.80" y="290.02" width="16.62" height="16.62" fill="#59157e"/>
<rect x="364.02" y="290.02" width="16.62" height="16.62" fill="#601880"/>
<rect x="380.24" y="290.02" width="16.62" height="16.62" fill="#752181"/>
<rect x="396.46" y="290.02" width="16.62" height="16.62" fill="#992d80"/>
<rect x="412.68" y="290.02" width="16.62" height="16.62" fill="#c23b75"/>
<rect x="428.90" y="290.02" width="16.62" height="16.62" fill="#e85362"/>
<rect x="445.12" y="290.02" width="16.62" height="16.62" fill="#f7705c"/>
<rect x="461.34" y="290.02" width="16.62" height="16.62" fill="#f7705c"/>
<rect x="23.40" y="306.24" width="16.62" height="16.62" fill="#cf4070"/>
<rect x="39.62" y="306.24" width="16.62" height="16.62" fill="#ca3e72"/>
<rect x="55.84" y="306.24" width="16.62" height="16.62" fill="#c73d73"/>
<rect x="72.06" y="306.24" width="16.62" height="16.62" fill="#b73779"/>
<rect x="88.28" y="306.24" width="16.62" height="16.62" fill="#aa337d"/>
<rect x="104.50" y="306.24" width="16.62" height="16.62" fill="#a1307e"/>
<rect x="120.72" y="306.24" width="16.62" height="16.62" fill="#9c2e7f"/>
<rect x="136.94" y="306.24" width="16.62" height="16.62" fill="#a1307e"/>
<rect x="153.16" y="306.24" width="16.62" height="16.62" fill="#aa337d"/>
<rect x="169.38" y="306.24" width="16.62" height="16.62" fill="#bf3a77"/>
<rect x="185.60" y="306.24" width="16.62" height="16.62" fill="#ca3e72"/>
<rect x="201.82" y="306.24" width="16.62" height="16.62" fill="#d2426f"/>
<rect x="218.04" y="306.24" width="16.62" height="16.62" fill="#d2426f"/>
<rect x="234.26" y="306.24" width="16.62" height="16.62" fill="#ca3e72"/>
<rect x="250.48" y="306.24" width="16.62" height="16.62" fill="#b73779"/>
<rect x="266.70" y="306.24" width="16.62" height="16.62" fill="#9c2e7f"/>
<rect x="282.92" y="306.24" width="16.62" height="16.62" fill="#7c2382"/>
<rect x="299.14" y="306.24" width="16.62" height="16.62" fill="#601880"/>
<rect x="315.36" y="306.24" width="16.62" height="16.62" fill="#4c117a"/>
<rect x="331.58" y="306.24" width="16.62" height="16.62" fill="#440f76"/>
<rect x="347.80" y="306.24" width="16.62" height="16.62" fill="#440f76"/>
<rect x="364.02" y="306.24" width="16.62" height="16.62" fill="#471078"/>
<rect x="380.24" y="306.24" width="16.62" height="16.62" fill="#59157e"/>
<rect x="396.46" y="306.24" width="16.62" height="16.62" fill="#701f81"/>
<rect x="412.68" y="306.24" width="16.62" height="16.62" fill="#942c80"/>
<rect x="428.90" y="306.24" width="16.62" height="16.62" fill="#bf3a77"/>
<rect x="445.12" y="306.24" width="16.62" height="16.62" fill="#d6456c"/>
<rect x="461.34" y="306.24" width="16.62" height="16.62" fill="#d6456c"/>
<rect x="23.40" y="322.46" width="16.62" height="16.62" fill="#982d80"/>
<rect x="39.62" y="322.46" width="16.62" height="16.62" fill="#942c80"/>
<rect x="55.84" y="322.46" width="16.62" height="16.62" fill="#a1307e"/>
<rect x="72.06" y="322.46" width="16.62" height="16.62" fill="#ad347c"/>
<rect x="88.28" y="322.46" width="16.62" height="16.62" fill="#b73779"/>
<rect x="104.50" y="322.46" width="16.62" height="16.62" fill="#b73779"/>
<rect x="120.72" y="322.46" width="16.62" height="16.62" fill="#b73779"/>
<rect x="136.94" y="322.46" width="16.62" height="16.62" fill="#b73779"/>
<rect x="153.16" y="322.46" width="16.62" height="16.62" fill="#b73779"/>
<rect x="169.38" y="322.46" width="16.62" height="16.62" fill="#b73779"/>
<rect x="185.60" y="322.46" width="16.62" height="16.62" fill="#b73779"/>
<rect x="201.82" y="322.46" width="16.62" height="16.62" fill="#b73779"/>
<rect x="218.04" y="322.46" width="16.62" height="16.62" fill="#b73779"/>
<rect x="234.26" y="322.46" width="16.62" height="16.62" fill="#b73779"/>
<rect x="250.48" y="322.46" width="16.62" height="16.62" fill="#a5317e"/>
<rect x="266.70" y="322.46" width="16.62" height="16.62" fill="#902a81"/>
<rect x="282.92" y="322.46" width="16.62" height="16.62" fill="#782281"/>
<rect x="299.14" y="322.46" width="16.62" height="16.62" fill="#641a80"/>
<rect x="315.36" y="322.46" width="16.62" height="16.62" fill="#471078"/>
<rect x="331.58" y="322.46" width="16.62" height="16.62" fill="#3f0f72"/>
<rect x="347.80" y="322.46" width="16.62" height="16.62" fill="#3b0f70"/>
<rect x="364.02" y="322.46" width="16.62" height="16.62" fill="#3b0f70"/>
<rect x="380.24" y="322.46" width="16.62" height="16.62" fill="#440f76"/>
<rect x="396.46" y="322.46" width="16.62" height="16.62" fill="#54137d"/>
<rect x="412.68" y="322.46" width="16.62" height="16.62" fill="#6b1d81"/>
<rect x="428.90" y="322.46" width="16.62" height="16.62" fill="#842681"/>
<rect x="445.12" y="322.46" width="16.62" height="16.62" fill="#9c2e7f"/>
<rect x="461.34" y="322.46" width="16.62" height="16.62" fill="#9c2e7f"/>
<rect x="23.40" y="338.68" width="16.62" height="16.62" fill="#732081"/>
<rect x="39.62" y="338.68" width="16.62" height="16.62" fill="#701f81"/>
<rect x="55.84" y="338.68" width="16.62" height="16.62" fill="#842681"/>
<rect x="72.06" y="338.68" width="16.62" height="16.62" fill="#9c2e7f"/>
<rect x="88.28" y="338.68" width="16.62" height="16.62" fill="#ad347c"/>
<rect x="104.50" y="338.68" width="16.62" height="16.62" fill="#bf3a77"/>
<rect x="120.72" y="338.68" width="16.62" height="16.62" fill="#bf3a77"/>
<rect x="136.94" y="338.68" width="16.62" height="16.62" fill="#b73779"/>
<rect x="153.16" y="338.68" width="16.62" height="16.62" fill="#aa337d"/>
<rect x="169.38" y="338.68" width="16.62" height="16.62" fill="#9c2e7f"/>
<rect x="185.60" y="338.68" width="16.62" height="16.62" fill="#942c80"/>
<rect x="201.82" y="338.68" width="16.62" height="16.62" fill="#8c2981"/>
<rect x="218.04" y="338.68" width="16.62" height="16.62" fill="#8c2981"/>
<rect x="234.26" y="338.68" width="16.62" height="16.62" fill="#942c80"/>
<rect x="250.48" y="338.68" width="16.62" height="16.62" fill="#902a81"/>
<rect x="266.70" y="338.68" width="16.62" height="16.62" fill="#882781"/>
<rect x="282.92" y="338.68" width="16.62" height="16.62" fill="#7c2382"/>
<rect x="299.14" y="338.68" width="16.62" height="16.62" fill="#6b1d81"/>
<rect x="315.36" y="338.68" width="16.62" height="16.62" fill="#5c167f"/>
<rect x="331.58" y="338.68" width="16.62" height="16.62" fill="#440f76"/>
<rect x="347.80" y="338.68" width="16.62" height="16.62" fill="#3b0f70"/>
<rect x="364.02" y="338.68" width="16.62" height="16.62" fill="#3b0f70"/>
<rect x="380.24" y="338.68" width="16.62" height="16.62" fill="#3b0f70"/>
<rect x="396.46" y="338.68" width="16.62" height="16.62" fill="#440f76"/>
<rect x="412.68" y="338.68" width="16.62" height="16.62" fill="#51127c"/>
<rect x="428.90" y="338.68" width="16.62" height="16.62" fill="#641a80"/>
<rect x="445.12" y="338.68" width="16.62" height="16.62" fill="#7c2382"/>
<rect x="461.34" y="338.68" width="16.62" height="16.62" fill="#7c2382"/>
<rect x="23.40" y="354.90" width="16.62" height="16.62" fill="#6a1c81"/>
<rect x="39.62" y="354.90" width="16.62" height="16.62" fill="#681c81"/>
<rect x="55.84" y="354.90" width="16.62" height="16.62" fill="#782281"/>
<rect x="72.06" y="354.90" width="16.62" height="16.62" fill="#8c2981"/>
<rect x="88.28" y="354.90" width="16.62" height="16.62" fill="#a5317e"/>
<rect x="104.50" y="354.90" width="16.62" height="16.62" fill="#b73779"/>
<rect x="120.72" y="354.90" width="16.62" height="16.62" fill="#b73779"/>
<rect x="136.94" y="354.90" width="16.62" height="16.62" fill="#aa337d"/>
<rect x="153.16" y="354.90" width="16.62" height="16.62" fill="#942c80"/>
<rect x="169.38" y="354.90" width="16.62" height="16.62" fill="#8c2981"/>
<rect x="185.60" y="354.90" width="16.62" height="16.62" fill="#7c2382"/>
<rect x="201.82" y="354.90" width="16.62" height="16.62" fill="#7c2382"/>
<rect x="218.04" y="354.90" width="16.62" height="16.62" fill="#7c2382"/>
<rect x="234.26" y="354.90" width="16.62" height="16.62" fill="#7c2382"/>
<rect x="250.48" y="354.90" width="16.62" height="16.62" fill="#802582"/>
<rect x="266.70" y="354.90" width="16.62" height="16.62" fill="#8c2981"/>
<rect x="282.92" y="354.90" width="16.62" height="16.62" fill="#942c80"/>
<rect x="299.14" y="354.90" width="16.62" height="16.62" fill="#942c80"/>
<rect x="315.36" y="354.90" width="16.62" height="16.62" fill="#842681"/>
<rect x="331.58" y="354.90" width="16.62" height="16.62" fill="#701f81"/>
<rect x="347.80" y="354.90" width="16.62" height="16.62" fill="#5c167f"/>
<rect x="364.02" y="354.90" width="16.62" height="16.62" fill="#471078"/>
<rect x="380.24" y="354.90" width="16.62" height="16.62" fill="#3b0f70"/>
<rect x="396.46" y="354.90" width="16.62" height="16.62" fill="#3b0f70"/>
<rect x="412.68" y="354.90" width="16.62" height="16.62" fill="#471078"/>
<rect x="428.90" y="354.90" width="16.62" height="16.62" fill="#641a80"/>
<rect x="445.12" y="354.90" width="16.62" height="16.62" fill="#802582"/>
<rect x="461.34" y="354.90" width="16.62" height="16.62" fill="#802582"/>
<rect x="23.40" y="371.12" width="16.62" height="16.62" fill="#621980"/>
<rect x="39.62" y="371.12" width="16.62" height="16.62" fill="#601880"/>
<rect x="55.84" y="371.12" width="16.62" height="16.62" fill="#701f81"/>
<rect x="72.06" y="371.12" width="16.62" height="16.62" fill="#7c2382"/>
<rect x="88.28" y="371.12" width="16.62" height="16.62" fill="#942c80"/>
<rect x="104.50" y="371.12" width="16.62" height="16.62" fill="#a1307e"/>
<rect x="120.72" y="371.12" width="16.62" height="16.62" fill="#a1307e"/>
<rect x="136.94" y="371.12" width="16.62" height="16.62" fill="#942c80"/>
<rect x="153.16" y="371.12" width="16.62" height="16.62" fill="#802582"/>
<rect x="169.38" y="371.12" width="16.62" height="16.62" fill="#7c2382"/>
<rect x="185.60" y="371.12" width="16.62" height="16.62" fill="#701f81"/>
<rect x="201.82" y="371.12" width="16.62" height="16.62" fill="#701f81"/>
<rect x="218.04" y="371.12" width="16.62" height="16.62" fill="#701f81"/>
<rect x="234.26" y="371.12" width="16.62" height="16.62" fill="#802582"/>
<rect x="250.48" y="371.12" width="16.62" height="16.62" fill="#a1307e"/>
<rect x="266.70" y="371.12" width="16.62" height="16.62" fill="#bf3a77"/>
<rect x="282.92" y="371.12" width="16.62" height="16.62" fill="#d2426f"/>
<rect x="299.14" y="371.12" width="16.62" height="16.62" fill="#ca3e72"/>
<rect x="315.36" y="371.12" width="16.62" height="16.62" fill="#b2357b"/>
<rect x="331.58" y="371.12" width="16.62" height="16.62" fill="#902a81"/>
<rect x="347.80" y="371.12" width="16.62" height="16.62" fill="#701f81"/>
<rect x="364.02" y="371.12" width="16.62" height="16.62" fill="#54137d"/>
<rect x="380.24" y="371.12" width="16.62" height="16.62" fill="#440f76"/>
<rect x="396.46" y="371.12" width="16.62" height="16.62" fill="#440f76"/>
<rect x="412.68" y="371.12" width="16.62" height="16.62" fill="#4c117a"/>
<rect x="428.90" y="371.12" width="16.62" height="16.62" fill="#641a80"/>
<rect x="445.12" y="371.12" width="16.62" height="16.62" fill="#842681"/>
<rect x="461.34" y="371.12" width="16.62" height="16.62" fill="#842681"/>
<rect x="23.40" y="387.34" width="16.62" height="16.62" fill="#671b80"/>
<rect x="39.62" y="387.34" width="16.62" height="16.62" fill="#641a80"/>
<rect x="55.84" y="387.34" width="16.62" height="16.62" fill="#6b1d81"/>
<rect x="72.06" y="387.34" width="16.62" height="16.62" fill="#7c2382"/>
<rect x="88.28" y="387.34" width="16.62" height="16.62" fill="#8c2981"/>
<rect x="104.50" y="387.34" width="16.62" height="16.62" fill="#992d80"/>
<rect x="120.72" y="387.34" width="16.62" height="16.62" fill="#992d80"/>
<rect x="136.94" y="387.34" width="16.62" height="16.62" fill="#902a81"/>
<rect x="153.16" y="387.34" width="16.62" height="16.62" fill="#802582"/>
<rect x="169.38" y="387.34" width="16.62" height="16.62" fill="#7c2382"/>
<rect x="185.60" y="387.34" width="16.62" height="16.62" fill="#752181"/>
<rect x="201.82" y="387.34" width="16.62" height="16.62" fill="#782281"/>
<rect x="218.04" y="387.34" width="16.62" height="16.62" fill="#842681"/>
<rect x="234.26" y="387.34" width="16.62" height="16.62" fill="#a5317e"/>
<rect x="250.48" y="387.34" width="16.62" height="16.62" fill="#ca3e72"/>
<rect x="266.70" y="387.34" width="16.62" height="16.62" fill="#ed5a5f"/>
<rect x="282.92" y="387.34" width="16.62" height="16.62" fill="#f7705c"/>
<rect x="299.14" y="387.34" width="16.62" height="16.62" fill="#f2625d"/>
<rect x="315.36" y="387.34" width="16.62" height="16.62" fill="#d6456c"/>
<rect x="331.58" y="387.34" width="16.62" height="16.62" fill="#ad347c"/>
<rect x="347.80" y="387.34" width="16.62" height="16.62" fill="#882781"/>
<rect x="364.02" y="387.34" width="16.62" height="16.62" fill="#681c81"/>
<rect x="380.24" y="387.34" width="16.62" height="16.62" fill="#54137d"/>
<rect x="396.46" y="387.34" width="16.62" height="16.62" fill="#51127c"/>
<rect x="412.68" y="387.34" width="16.62" height="16.62" fill="#59157e"/>
<rect x="428.90" y="387.34" width="16.62" height="16.62" fill="#6b1d81"/>
<rect x="445.12" y="387.34" width="16.62" height="16.62" fill="#8c2981"/>
<rect x="461.34" y="387.34" width="16.62" height="16.62" fill="#8c2981"/>
<rect x="23.40" y="403.56" width="16.62" height="16.62" fill="#902a81"/>
<rect x="39.62" y="403.56" width="16.62" height="16.62" fill="#8c2981"/>
<rect x="55.84" y="403.56" width="16.62" height="16.62" fill="#8c2981"/>
<rect x="72.06" y="403.56" width="16.62" height="16.62" fill="#942c80"/>
<rect x="88.28" y="403.56" width="16.62" height="16.62" fill="#9c2e7f"/>
<rect x="104.50" y="403.56" width="16.62" height="16.62" fill="#a5317e"/>
<rect x="120.72" y="403.56" width="16.62" height="16.62" fill="#a5317e"/>
<rect x="136.94" y="403.56" width="16.62" height="16.62" fill="#9c2e7f"/>
<rect x="153.16" y="403.56" width="16.62" height="16.62" fill="#902a81"/>
<rect x="169.38" y="403.56" width="16.62" height="16.62" fill="#882781"/>
<rect x="185.60" y="403.56" width="16.62" height="16.62" fill="#842681"/>
<rect x="201.82" y="403.56" width="16.62" height="16.62" fill="#8c2981"/>
<rect x="218.04" y="403.56" width="16.62" height="16.62" fill="#a1307e"/>
<rect x="234.26" y="403.56" width="16.62" height="16.62" fill="#c23b75"/>
<rect x="250.48" y="403.56" width="16.62" height="16.62" fill="#e85362"/>
<rect x="266.70" y="403.56" width="16.62" height="16.62" fill="#f9795d"/>
<rect x="282.92" y="403.56" width="16.62" height="16.62" fill="#fd9266"/>
<rect x="299.14" y="403.56" width="16.62" height="16.62" fill="#fb835f"/>
<rect x="315.36" y="403.56" width="16.62" height="16.62" fill="#e85362"/>
<rect x="331.58" y="403.56" width="16.62" height="16.62" fill="#ba3878"/>
<rect x="347.80" y="403.56" width="16.62" height="16.62" fill="#942c80"/>
<rect x="364.02" y="403.56" width="16.62" height="16.62" fill="#782281"/>
<rect x="380.24" y="403.56" width="16.62" height="16.62" fill="#681c81"/>
<rect x="396.46" y="403.56" width="16.62" height="16.62" fill="#641a80"/>
<rect x="412.68" y="403.56" width="16.62" height="16.62" fill="#6b1d81"/>
<rect x="428.90" y="403.56" width="16.62" height="16.62" fill="#802582"/>
<rect x="445.12" y="403.56" width="16.62" height="16.62" fill="#9c2e7f"/>
<rect x="461.34" y="403.56" width="16.62" height="16.62" fill="#9c2e7f"/>
<rect x="23.40" y="419.78" width="16.62" height="16.62" fill="#b2357b"/>
<rect x="39.62" y="419.78" width="16.62" height="16.62" fill="#ad347c"/>
<rect x="55.84" y="419.78" width="16.62" height="16.62" fill="#aa337d"/>
<rect x="72.06" y="419.78" width="16.62" height="16.62" fill="#aa337d"/>
<rect x="88.28" y="419.78" width="16.62" height="16.62" fill="#aa337d"/>
<rect x="104.50" y="419.78" width="16.62" height="16.62" fill="#ad347c"/>
<rect x="120.72" y="419.78" width="16.62" height="16.62" fill="#ad347c"/>
<rect x="136.94" y="419.78" width="16.62" height="16.62" fill="#ad347c"/>
<rect x="153.16" y="419.78" width="16.62" height="16.62" fill="#ad347c"/>
<rect x="169.38" y="419.78" width="16.62" height="16.62" fill="#b2357b"/>
<rect x="185.60" y="419.78" width="16.62" height="16.62" fill="#bf3a77"/>
<rect x="201.82" y="419.78" width="16.62" height="16.62" fill="#cf4070"/>
<rect x="218.04" y="419.78" width="16.62" height="16.62" fill="#de4968"/>
<rect x="234.26" y="419.78" width="16.62" height="16.62" fill="#e85362"/>
<rect x="250.48" y="419.78" width="16.62" height="16.62" fill="#f4675c"/>
<rect x="266.70" y="419.78" width="16.62" height="16.62" fill="#f9795d"/>
<rect x="282.92" y="419.78" width="16.62" height="16.62" fill="#fc8961"/>
<rect x="299.14" y="419.78" width="16.62" height="16.62" fill="#f9795d"/>
<rect x="315.36" y="419.78" width="16.62" height="16.62" fill="#e85362"/>
<rect x="331.58" y="419.78" width="16.62" height="16.62" fill="#bf3a77"/>
<rect x="347.80" y="419.78" width="16.62" height="16.62" fill="#9c2e7f"/>
<rect x="364.02" y="419.78" width="16.62" height="16.62" fill="#882781"/>
<rect x="380.24" y="419.78" width="16.62" height="16.62" fill="#802582"/>
<rect x="396.46" y="419.78" width="16.62" height="16.62" fill="#802582"/>
<rect x="412.68" y="419.78" width="16.62" height="16.62" fill="#882781"/>
<rect x="428.90" y="419.78" width="16.62" height="16.62" fill="#942c80"/>
<rect x="445.12" y="419.78" width="16.62" height="16.62" fill="#aa337d"/>
<rect x="461.34" y="419.78" width="16.62" height="16.62" fill="#aa337d"/>
<rect x="23.40" y="436.00" width="16.62" height="16.62" fill="#cf4070"/>
<rect x="39.62" y="436.00" width="16.62" height="16.62" fill="#ca3e72"/>
<rect x="55.84" y="436.00" width="16.62" height="16.62" fill="#b73779"/>
<rect x="72.06" y="436.00" width="16.62" height="16.62" fill="#aa337d"/>
<rect x="88.28" y="436.00" width="16.62" height="16.62" fill="#aa337d"/>
<rect x="104.50" y="436.00" width="16.62" height="16.62" fill="#aa337d"/>
<rect x="120.72" y="436.00" width="16.62" height="16.62" fill="#aa337d"/>
<rect x="136.94" y="436.00" width="16.62" height="16.62" fill="#b73779"/>
<rect x="153.16" y="436.00" width="16.62" height="16.62" fill="#c23b75"/>
<rect x="169.38" y="436.00" width="16.62" height="16.62" fill="#d2426f"/>
<rect x="185.60" y="436.00" width="16.62" height="16.62" fill="#de4968"/>
<rect x="201.82" y="436.00" width="16.62" height="16.62" fill="#e85362"/>
<rect x="218.04" y="436.00" width="16.62" height="16.62" fill="#ed5a5f"/>
<rect x="234.26" y="436.00" width="16.62" height="16.62" fill="#f4675c"/>
<rect x="250.48" y="436.00" width="16.62" height="16.62" fill="#f9795d"/>
<rect x="266.70" y="436.00" width="16.62" height="16.62" fill="#fc8961"/>
<rect x="282.92" y="436.00" width="16.62" height="16.62" fill="#fc8961"/>
<rect x="299.14" y="436.00" width="16.62" height="16.62" fill="#f9795d"/>
<rect x="315.36" y="436.00" width="16.62" height="16.62" fill="#e85362"/>
<rect x="331.58" y="436.00" width="16.62" height="16.62" fill="#bf3a77"/>
<rect x="347.80" y="436.00" width="16.62" height="16.62" fill="#9c2e7f"/>
<rect x="364.02" y="436.00" width="16.62" height="16.62" fill="#8c2981"/>
<rect x="380.24" y="436.00" width="16.62" height="16.62" fill="#882781"/>
<rect x="396.46" y="436.00" width="16.62" height="16.62" fill="#882781"/>
<rect x="412.68" y="436.00" width="16.62" height="16.62" fill="#8c2981"/>
<rect x="428.90" y="436.00" width="16.62" height="16.62" fill="#992d80"/>
<rect x="445.12" y="436.00" width="16.62" height="16.62" fill="#aa337d"/>
<rect x="461.34" y="436.00" width="16.62" height="16.62" fill="#aa337d"/>
<rect x="23.40" y="452.22" width="16.62" height="16.62" fill="#f05f5e"/>
<rect x="39.62" y="452.22" width="16.62" height="16.62" fill="#ed5a5f"/>
<rect x="55.84" y="452.22" width="16.62" height="16.62" fill="#ca3e72"/>
<rect x="72.06" y="452.22" width="16.62" height="16.62" fill="#aa337d"/>
<rect x="88.28" y="452.22" width="16.62" height="16.62" fill="#992d80"/>
<rect x="104.50" y="452.22" width="16.62" height="16.62" fill="#992d80"/>
<rect x="120.72" y="452.22" width="16.62" height="16.62" fill="#9c2e7f"/>
<rect x="136.94" y="452.22" width="16.62" height="16.62" fill="#aa337d"/>
<rect x="153.16" y="452.22" width="16.62" height="16.62" fill="#b73779"/>
<rect x="169.38" y="452.22" width="16.62" height="16.62" fill="#ca3e72"/>
<rect x="185.60" y="452.22" width="16.62" height="16.62" fill="#de4968"/>
<rect x="201.82" y="452.22" width="16.62" height="16.62" fill="#ed5a5f"/>
<rect x="218.04" y="452.22" width="16.62" height="16.62" fill="#ed5a5f"/>
<rect x="234.26" y="452.22" width="16.62" height="16.62" fill="#ef5d5e"/>
<rect x="250.48" y="452.22" width="16.62" height="16.62" fill="#f7705c"/>
<rect x="266.70" y="452.22" width="16.62" height="16.62" fill="#fa7d5e"/>
<rect x="282.92" y="452.22" width="16.62" height="16.62" fill="#fa7d5e"/>
<rect x="299.14" y="452.22" width="16.62" height="16.62" fill="#f7705c"/>
<rect x="315.36" y="452.22" width="16.62" height="16.62" fill="#e44f64"/>
<rect x="331.58" y="452.22" width="16.62" height="16.62" fill="#bf3a77"/>
<rect x="347.80" y="452.22" width="16.62" height="16.62" fill="#a1307e"/>
<rect x="364.02" y="452.22" width="16.62" height="16.62" fill="#8c2981"/>
<rect x="380.24" y="452.22" width="16.62" height="16.62" fill="#882781"/>
<rect x="396.46" y="452.22" width="16.62" height="16.62" fill="#882781"/>
<rect x="412.68" y="452.22" width="16.62" height="16.62" fill="#8c2981"/>
<rect x="428.90" y="452.22" width="16.62" height="16.62" fill="#942c80"/>
<rect x="445.12" y="452.22" width="16.62" height="16.62" fill="#a1307e"/>
<rect x="461.34" y="452.22" width="16.62" height="16.62" fill="#a1307e"/>
</g>
<g clip-path="url(#c1i)" fill="none">
<path d="M28.0 433.4 L53.6 447.0" stroke="#3a22d8" stroke-width="5.3" stroke-opacity="0.9"/>
<path d="M62.3 451.1 L67.1 453.1" stroke="#3a22d8" stroke-width="5.3" stroke-opacity="0.9"/>
<path d="M75.8 456.7 L102.0 463.6" stroke="#3a22d8" stroke-width="5.3" stroke-opacity="0.9"/>
<path d="M450.6 433.0 L455.2 430.6" stroke="#3a22d8" stroke-width="5.3" stroke-opacity="0.9"/>
<path d="M441.5 437.8 L411.7 452.9" stroke="#3a22d8" stroke-width="5.3" stroke-opacity="0.9"/>
<path d="M397.3 458.2 L402.3 456.4" stroke="#3a22d8" stroke-width="5.3" stroke-opacity="0.9"/>
<path d="M387.3 460.5 L366.0 465.0" stroke="#3a22d8" stroke-width="5.3" stroke-opacity="0.9"/>
<ellipse cx="388.9" cy="410.6" rx="57" ry="38.5" transform="rotate(-16.5 388.9 410.6)" stroke="#fff" stroke-width="2.7"/>
<path d="M263.58 253.06 L262.02 253.34 L260.46 253.54 L258.88 253.66 L257.30 253.70 L255.72 253.66 L254.14 253.54 L252.58 253.34 L251.02 253.06 L249.48 252.70 L247.97 252.26 L246.48 251.75 L245.02 251.16 L243.59 250.50 L242.20 249.76 L240.85 248.96 L239.55 248.09 L238.29 247.15 L237.09 246.15 L235.95 245.09 L234.86 243.97 L233.83 242.80 L232.87 241.58 L231.97 240.31 L231.15 239.00 L230.39 237.65 L229.71 236.26 L229.11 234.84 L228.58 233.39 L228.13 231.91 L227.76 230.41 L227.47 228.90 L227.27 227.37 L227.14 225.84 L227.10 224.30 L227.14 222.76 L227.27 221.23 L227.47 219.70 L227.76 218.19 L228.13 216.69 L228.58 215.21 L229.11 213.76 L229.71 212.34 L230.39 210.95 L231.15 209.60 L231.97 208.29 L232.87 207.02 L233.83 205.80 L234.86 204.63 L235.95 203.51 L237.09 202.45 L238.29 201.45 L239.55 200.51 L240.85 199.64 L242.20 198.84 L243.59 198.10 L245.02 197.44 L246.48 196.85 L247.97 196.34 L249.48 195.90 L251.02 195.54 L252.58 195.26 L254.14 195.06 L255.72 194.94 L257.30 194.90 L258.88 194.94 L260.46 195.06 L262.02 195.26 L263.58 195.54 L265.12 195.90 L266.63 196.34 L268.12 196.85 L269.58 197.44 L271.01 198.10 L272.40 198.84 L273.75 199.64 L275.05 200.51 L276.31 201.45 L277.51 202.45 L278.65 203.51 L279.74 204.63 L280.77 205.80 L281.73 207.02 L282.63 208.29 L283.45 209.60 L284.21 210.95 L284.89 212.34 L285.49 213.76 L286.02 215.21 L286.47 216.69 L286.84 218.19 L287.13 219.70 L287.33 221.23 L287.46 222.76 L287.50 224.30 L287.46 225.84 L287.33 227.37 L287.13 228.90 L286.84 230.41 L286.47 231.91 L286.02 233.39 L285.49 234.84 L284.89 236.26 L284.21 237.65 L283.45 239.00 L282.63 240.31 L281.73 241.58 L280.77 242.80 L279.74 243.97 L278.65 245.09 L277.51 246.15 L276.31 247.15 L275.05 248.09 L273.75 248.96 L272.40 249.76 L271.01 250.50 L269.58 251.16 L268.12 251.75 L266.63 252.26 L265.12 252.70 L263.58 253.06" stroke="#484848" stroke-opacity="0.8" stroke-width="5.4" stroke-dasharray="20.56 8.89"/>
<path d="M265.49 272.47 L262.99 272.84 L260.47 273.08 L257.94 273.19 L255.41 273.17 L252.89 273.02 L250.38 272.73 L247.88 272.31 L245.42 271.77 L242.98 271.09 L240.58 270.29 L238.23 269.37 L235.93 268.32 L233.68 267.16 L231.50 265.88 L229.40 264.48 L227.36 262.98 L225.41 261.38 L223.55 259.67 L221.78 257.87 L220.10 255.98 L218.53 254.01 L217.06 251.95 L215.70 249.82 L214.45 247.63 L213.33 245.37 L212.32 243.06 L211.43 240.69 L210.67 238.29 L210.04 235.84 L209.53 233.37 L209.16 230.87 L208.92 228.36 L208.81 225.84 L208.83 223.32 L208.98 220.80 L209.27 218.29 L209.69 215.80 L210.23 213.34 L210.91 210.91 L211.71 208.51 L212.64 206.17 L213.69 203.87 L214.86 201.63 L216.14 199.46 L217.53 197.35 L219.04 195.33 L220.65 193.38 L222.36 191.52 L224.16 189.75 L226.05 188.08 L228.03 186.51 L230.09 185.04 L232.22 183.68 L234.42 182.44 L236.69 181.32 L239.01 180.31 L241.38 179.43 L243.79 178.67 L246.23 178.04 L248.71 177.53 L251.21 177.16 L253.73 176.92 L256.26 176.81 L258.79 176.83 L261.31 176.98 L263.82 177.27 L266.32 177.69 L268.78 178.23 L271.22 178.91 L273.62 179.71 L275.97 180.63 L278.27 181.68 L280.52 182.84 L282.70 184.12 L284.80 185.52 L286.84 187.02 L288.79 188.62 L290.65 190.33 L292.42 192.13 L294.10 194.02 L295.67 195.99 L297.14 198.05 L298.50 200.18 L299.75 202.37 L300.87 204.63 L301.88 206.94 L302.77 209.31 L303.53 211.71 L304.16 214.16 L304.67 216.63 L305.04 219.13 L305.28 221.64 L305.39 224.16 L305.37 226.68 L305.22 229.20 L304.93 231.71 L304.51 234.20 L303.97 236.66 L303.29 239.09 L302.49 241.49 L301.56 243.83 L300.51 246.13 L299.34 248.37 L298.06 250.54 L296.67 252.65 L295.16 254.67 L293.55 256.62 L291.84 258.48 L290.04 260.25 L288.15 261.92 L286.17 263.49 L284.11 264.96 L281.98 266.32 L279.78 267.56 L277.51 268.68 L275.19 269.69 L272.82 270.57 L270.41 271.33 L267.97 271.96 L265.49 272.47" stroke="#008000" stroke-width="5.4" stroke-dasharray="20.56 8.89"/>
</g>
<rect x="30" y="31" width="438" height="438" fill="none" stroke="#0000ff" stroke-width="14"/>
<g clip-path="url(#c1)" fill="none" stroke="#000" stroke-width="1.15" stroke-linejoin="round">
<path d="M217.3 217.9 L221.2 211.4 L235.5 201.6 L246.6 198.7 L258.9 198.4 L273.2 201.0 L283.6 208.8 L291.4 219.2 L293.0 230.2 L289.5 238.0 L281.0 245.2 L273.2 251.0 L258.9 256.2 L245.9 254.9 L232.9 248.4 L219.9 236.1 Z"/>
<path d="M234.2 217.2 L242.0 212.7 L258.9 210.7 L273.9 217.6 L276.1 233.5 L258.9 242.3 L242.0 239.3 L234.2 232.2 Z"/>
<path d="M29 46.3 L42.9 49.3 L55 50.5 L66.7 44.2 L72.7 37.9 L70 30"/>
<path d="M419.5 30 L433.3 37.9 L446.7 45 L458.3 50.8 L469 55"/>
<path d="M434.8 30 L446.7 36.7 L454.2 40.4 L461.7 42.3 L469 44.6"/>
</g>
<rect x="44.25" y="45.3" width="196.65" height="21.2" fill="url(#gm)" stroke="#000" stroke-width="2.2"/>
<path d="M85.8 67.6 V77 M218.5 67.6 V77" stroke="#fff" stroke-width="2.2"/>
<g fill="#fff" font-size="27.78px" text-anchor="middle">
<text x="85.8" y="107.5">−0.1</text>
<text x="218.5" y="107.5">0.1</text>
<text x="142.2" y="134.2">Jy/beam km/s</text>
</g>
<text x="47.3" y="444" fill="#fff" font-size="41.67px">South</text>
<g shape-rendering="crispEdges">
<rect x="704.04" y="176.48" width="16.52" height="16.52" fill="#7070ff"/>
<rect x="720.26" y="176.48" width="16.52" height="16.52" fill="#fffcfc"/>
<rect x="736.48" y="176.48" width="16.52" height="16.52" fill="#ff7e7e"/>
<rect x="752.70" y="176.48" width="16.52" height="16.52" fill="#ff0000"/>
<rect x="768.92" y="176.48" width="16.52" height="16.52" fill="#ff0000"/>
<rect x="687.82" y="192.70" width="16.52" height="16.52" fill="#5656ff"/>
<rect x="704.04" y="192.70" width="16.52" height="16.52" fill="#bcbcff"/>
<rect x="720.26" y="192.70" width="16.52" height="16.52" fill="#ffd6d6"/>
<rect x="736.48" y="192.70" width="16.52" height="16.52" fill="#ff7e7e"/>
<rect x="752.70" y="192.70" width="16.52" height="16.52" fill="#ff2828"/>
<rect x="768.92" y="192.70" width="16.52" height="16.52" fill="#ff0000"/>
<rect x="785.14" y="192.70" width="16.52" height="16.52" fill="#ff0000"/>
<rect x="687.82" y="208.92" width="16.52" height="16.52" fill="#4646ff"/>
<rect x="704.04" y="208.92" width="16.52" height="16.52" fill="#a2a2ff"/>
<rect x="720.26" y="208.92" width="16.52" height="16.52" fill="#fafaff"/>
<rect x="736.48" y="208.92" width="16.52" height="16.52" fill="#ffa8a8"/>
<rect x="752.70" y="208.92" width="16.52" height="16.52" fill="#ff5656"/>
<rect x="768.92" y="208.92" width="16.52" height="16.52" fill="#ff0000"/>
<rect x="785.14" y="208.92" width="16.52" height="16.52" fill="#ff0000"/>
<rect x="687.82" y="225.14" width="16.52" height="16.52" fill="#0000ff"/>
<rect x="704.04" y="225.14" width="16.52" height="16.52" fill="#5c5cff"/>
<rect x="720.26" y="225.14" width="16.52" height="16.52" fill="#b2b2ff"/>
<rect x="736.48" y="225.14" width="16.52" height="16.52" fill="#fff0f0"/>
<rect x="752.70" y="225.14" width="16.52" height="16.52" fill="#ff9898"/>
<rect x="768.92" y="225.14" width="16.52" height="16.52" fill="#ff3c3c"/>
<rect x="785.14" y="225.14" width="16.52" height="16.52" fill="#ff0000"/>
<rect x="687.82" y="241.36" width="16.52" height="16.52" fill="#0000ff"/>
<rect x="704.04" y="241.36" width="16.52" height="16.52" fill="#0000ff"/>
<rect x="720.26" y="241.36" width="16.52" height="16.52" fill="#6060ff"/>
<rect x="736.48" y="241.36" width="16.52" height="16.52" fill="#b8b8ff"/>
<rect x="752.70" y="241.36" width="16.52" height="16.52" fill="#ffe6e6"/>
<rect x="768.92" y="241.36" width="16.52" height="16.52" fill="#ff9898"/>
<rect x="785.14" y="241.36" width="16.52" height="16.52" fill="#ff5c5c"/>
<rect x="704.04" y="257.58" width="16.52" height="16.52" fill="#0000ff"/>
<rect x="720.26" y="257.58" width="16.52" height="16.52" fill="#0000ff"/>
<rect x="736.48" y="257.58" width="16.52" height="16.52" fill="#6060ff"/>
<rect x="752.70" y="257.58" width="16.52" height="16.52" fill="#b2b2ff"/>
<rect x="768.92" y="257.58" width="16.52" height="16.52" fill="#e0e0ff"/>
</g>
<rect x="529.8" y="45.3" width="196.8" height="21.1" fill="url(#gb)" stroke="#000" stroke-width="2.2"/>
<path d="M562.1 67.5 V77 M628.1 67.5 V77 M693.7 67.5 V77" stroke="#000" stroke-width="2.2"/>
<g fill="#000" font-size="27.78px" text-anchor="middle">
<text x="562.1" y="108.4">−0.5</text><text x="628.1" y="108.4">0.0</text><text x="693.7" y="108.4">0.5</text>
</g>
<g fill="#000" font-size="25px">
<text x="520.2" y="132.3" font-style="italic">v</text>
<text x="534.6" y="136.5" font-size="17.5px">CO</text>
<text x="565.75" y="132.3">−</text>
<text x="592.2" y="132.3" font-style="italic">v</text>
<text x="606.4" y="136.5" font-size="17.5px">peak</text>
<text x="658.1" y="132.3">(km/s)</text>
</g>
<rect x="516" y="31" width="438" height="438" fill="none" stroke="#0000ff" stroke-width="14"/>
<g clip-path="url(#c3)" fill="none">
<path d="M1207.3 323.1 L1207.3 247.0 L1218.5 247.0 L1218.5 170.0 L1229.6 170.0 L1229.6 158.0 L1240.7 158.0 L1240.7 239.4 L1251.9 239.4 L1251.9 323.1 Z" fill="#ffff00" fill-opacity="0.9"/>
<path d="M1036.0 0.0 L1036.0 69.0 L1045.0 69.0 L1045.0 119.0 L1054.0 119.0 L1054.0 86.5 L1063.1 86.5 L1063.1 160.6 L1072.1 160.6 L1072.1 154.0 L1081.1 154.0 L1081.1 155.0 L1090.1 155.0 L1090.1 181.4 L1099.1 181.4 L1099.1 193.0 L1108.2 193.0 L1108.2 170.6 L1117.2 170.6 L1117.2 224.0 L1126.2 224.0 L1126.2 220.6 L1135.2 220.6 L1135.2 235.0 L1144.2 235.0 L1144.2 234.0 L1153.3 234.0 L1153.3 262.0 L1162.3 262.0 L1162.3 282.0 L1171.3 282.0 L1171.3 266.0 L1180.3 266.0 L1180.3 270.6 L1189.3 270.6 L1189.3 278.6 L1198.4 278.6 L1198.4 259.0 L1207.4 259.0 L1207.4 310.0 L1216.4 310.0 L1216.4 302.0 L1225.4 302.0 L1225.4 305.0 L1234.4 305.0 L1234.4 302.0 L1243.5 302.0 L1243.5 268.0 L1252.5 268.0 L1252.5 323.0 L1261.5 323.0 L1261.5 302.0 L1270.5 302.0 L1270.5 293.0 L1279.5 293.0 L1279.5 319.0 L1288.6 319.0 L1288.6 305.0 L1297.6 305.0 L1297.6 300.0 L1306.6 300.0 L1306.6 294.0 L1315.6 294.0 L1315.6 352.6 L1324.6 352.6 L1324.6 341.5 L1333.7 341.5 L1333.7 327.2 L1342.7 327.2 L1342.7 320.3 L1351.7 320.3 L1351.7 340.0 L1360.7 340.0 L1360.7 343.6 L1369.7 343.6 L1369.7 336.5 L1378.8 336.5 L1378.8 326.0 L1387.8 326.0 L1387.8 290.0 L1396.8 290.0 L1396.8 317.8 L1405.8 317.8 L1405.8 322.5 L1414.8 322.5 L1414.8 327.2 L1423.9 327.2 L1423.9 322.5 L1432.9 322.5 L1432.9 324.7 L1441.9 324.7" stroke="#ff0000" stroke-opacity="0.7" stroke-width="3.4" stroke-linejoin="miter"/>
<path d="M1001.60 323.10 L1006.02 323.10 L1010.44 323.10 L1014.85 323.10 L1019.27 323.10 L1023.69 323.10 L1028.11 323.10 L1032.53 323.10 L1036.95 323.10 L1041.36 323.10 L1045.78 323.10 L1050.20 323.10 L1054.62 323.10 L1059.04 323.10 L1063.45 323.10 L1067.87 323.10 L1072.29 323.10 L1076.71 323.10 L1081.13 323.10 L1085.55 323.10 L1089.96 323.10 L1094.38 323.10 L1098.80 323.10 L1103.22 323.10 L1107.64 323.10 L1112.05 323.10 L1116.47 323.10 L1120.89 323.10 L1125.31 323.10 L1129.73 323.10 L1134.15 323.10 L1138.56 323.10 L1142.98 323.10 L1147.40 323.10 L1151.82 323.10 L1156.24 323.10 L1160.65 323.10 L1165.07 323.10 L1169.49 323.10 L1173.91 323.10 L1178.33 323.10 L1182.75 323.09 L1187.16 323.07 L1191.58 322.91 L1196.00 322.22 L1200.42 319.74 L1204.84 312.58 L1209.25 295.88 L1213.67 264.93 L1218.09 220.42 L1222.51 173.43 L1226.93 142.93 L1231.35 144.00 L1235.76 176.06 L1240.18 223.41 L1244.60 267.28 L1249.02 297.29 L1253.44 313.24 L1257.85 319.99 L1262.27 322.29 L1266.69 322.93 L1271.11 323.07 L1275.53 323.10 L1279.95 323.10 L1284.36 323.10 L1288.78 323.10 L1293.20 323.10 L1297.62 323.10 L1302.04 323.10 L1306.45 323.10 L1310.87 323.10 L1315.29 323.10 L1319.71 323.10 L1324.13 323.10 L1328.55 323.10 L1332.96 323.10 L1337.38 323.10 L1341.80 323.10 L1346.22 323.10 L1350.64 323.10 L1355.05 323.10 L1359.47 323.10 L1363.89 323.10 L1368.31 323.10 L1372.73 323.10 L1377.15 323.10 L1381.56 323.10 L1385.98 323.10 L1390.40 323.10 L1394.82 323.10 L1399.24 323.10 L1403.65 323.10 L1408.07 323.10 L1412.49 323.10 L1416.91 323.10 L1421.33 323.10 L1425.75 323.10 L1430.16 323.10 L1434.58 323.10 L1439.00 323.10" stroke="#008000" stroke-width="4.17" stroke-linejoin="round" stroke-dasharray="26.7 6.67 4.17 6.67" stroke-dashoffset="0.7"/>
<path d="M996.6 289.0 L1007.0 289.0 L1007.0 344.4 L1018.1 344.4 L1018.1 302.0 L1029.3 302.0 L1029.3 281.0 L1040.4 281.0 L1040.4 344.4 L1051.5 344.4 L1051.5 306.6 L1062.7 306.6 L1062.7 318.5 L1073.8 318.5 L1073.8 298.6 L1084.9 298.6 L1084.9 355.0 L1096.0 355.0 L1096.0 332.0 L1107.2 332.0 L1107.2 374.4 L1118.3 374.4 L1118.3 379.0 L1129.4 379.0 L1129.4 303.6 L1140.6 303.6 L1140.6 318.4 L1151.7 318.4 L1151.7 353.0 L1162.8 353.0 L1162.8 300.5 L1174.0 300.5 L1174.0 389.6 L1185.1 389.6 L1185.1 343.0 L1196.2 343.0 L1196.2 326.5 L1207.3 326.5 L1207.3 247.0 L1218.5 247.0 L1218.5 170.0 L1229.6 170.0 L1229.6 158.0 L1240.7 158.0 L1240.7 239.4 L1251.9 239.4 L1251.9 346.0 L1263.0 346.0 L1263.0 230.6 L1274.1 230.6 L1274.1 234.0 L1285.2 234.0 L1285.2 361.3 L1296.4 361.3 L1296.4 383.6 L1307.5 383.6 L1307.5 328.0 L1318.6 328.0 L1318.6 360.0 L1329.8 360.0 L1329.8 311.5 L1340.9 311.5 L1340.9 256.6 L1352.0 256.6 L1352.0 273.0 L1363.2 273.0 L1363.2 296.6 L1374.3 296.6 L1374.3 295.0 L1385.4 295.0 L1385.4 369.0 L1396.5 369.0 L1396.5 329.2 L1407.7 329.2 L1407.7 308.3 L1418.8 308.3 L1418.8 255.0 L1429.9 255.0 L1429.9 330.0 L1441.1 330.0" stroke="#808080" stroke-opacity="0.8" stroke-width="3.6" stroke-linejoin="miter"/>
</g>
<rect x="1001.6" y="30.4" width="437.4" height="439.0" fill="none" stroke="#000" stroke-width="2.2"/>
<path d="M1001.6 469.4 V479.6 M1089.1 469.4 V479.6 M1176.6 469.4 V479.6 M1264.0 469.4 V479.6 M1351.5 469.4 V479.6 M1439.0 469.4 V479.6 M1439.0 396.3 H1449.2 M1439.0 323.1 H1449.2 M1439.0 249.9 H1449.2 M1439.0 176.8 H1449.2 M1439.0 103.6 H1449.2 " stroke="#000" stroke-width="2.2"/>
<g fill="#000" font-size="27.78px" text-anchor="middle">
<text x="1001.6" y="511.2">40</text>
<text x="1089.1" y="511.2">45</text>
<text x="1176.6" y="511.2">50</text>
<text x="1264.0" y="511.2">55</text>
<text x="1351.5" y="511.2">60</text>
<text x="1439.0" y="511.2">65</text>
</g>
<g fill="#000" font-size="27.78px">
<text x="1458.6" y="406.3">−20</text>
<text x="1458.6" y="333.1">0</text>
<text x="1458.6" y="259.9">20</text>
<text x="1458.6" y="186.8">40</text>
<text x="1458.6" y="113.6">60</text>
</g>
<text x="1220.3" y="559" font-size="41.67px" text-anchor="middle" fill="#000">Velocity (km/s)</text>
<text transform="translate(1558.8 250) rotate(-90)" font-size="41.67px" text-anchor="middle" fill="#000">Flux (mJy)</text>
</svg></body></html>
